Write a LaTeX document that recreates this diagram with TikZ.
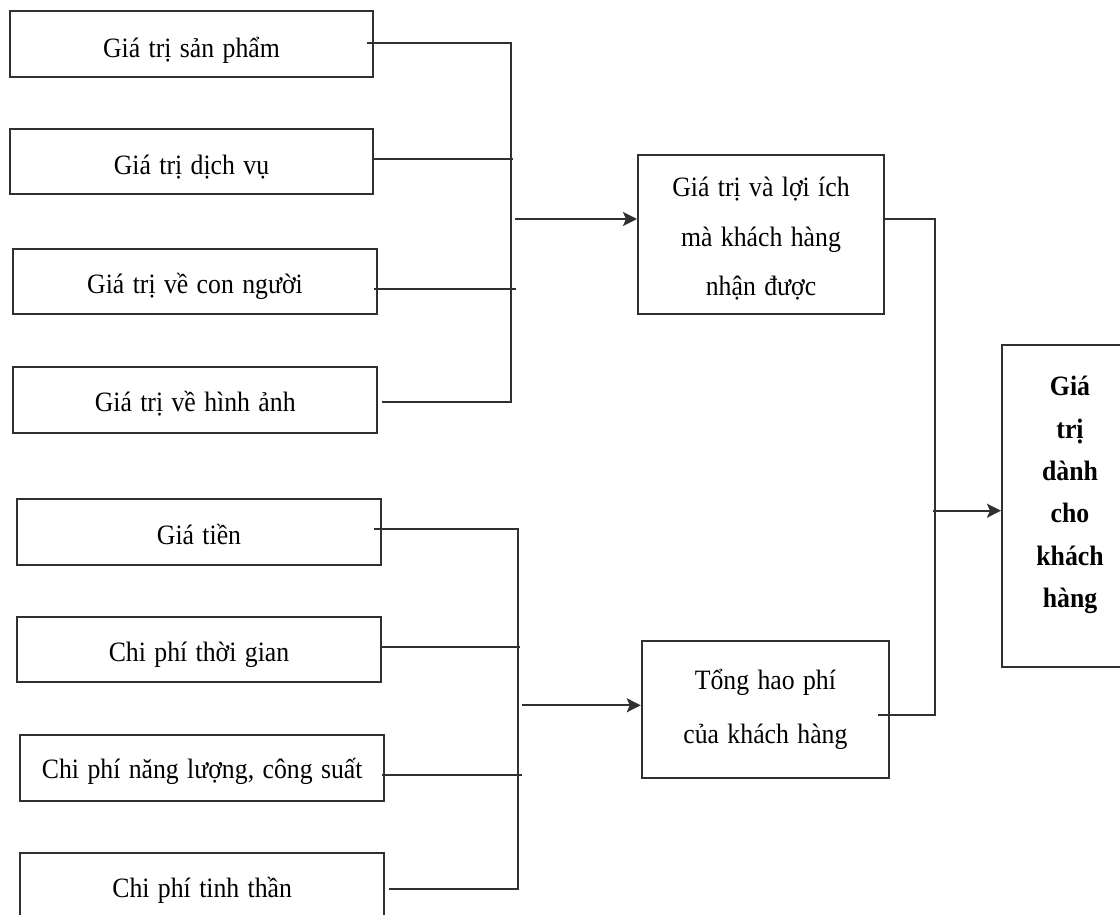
\documentclass[tikz,border=0pt]{standalone}
\usepackage{fontspec}
\setmainfont{Liberation Serif}[FakeStretch=0.92, WordSpace=1.3]
\usetikzlibrary{arrows.meta,calc}
\definecolor{linec}{HTML}{303030}
\begin{document}
\begin{tikzpicture}[x=1pt,y=-1pt,
  box/.style={draw=linec, line width=2pt, inner sep=0pt, align=center,
    font=\fontsize{28}{30}\selectfont},
  one/.style={box, text height=26pt, text depth=2pt},
  conn/.style={draw=linec, line width=2pt},
  arr/.style={conn, -{Stealth[length=14pt,width=14pt,inset=3pt]}}]
\clip (0,0) rectangle (1120,915);
\fill[white] (0,0) rectangle (1120,915);
% left column: values
\node[one, text height=29pt, minimum width=363pt, minimum height=66pt]   (b1) at (191.5,44)    {Giá trị sản phẩm};
\node[one, text height=28pt, minimum width=363pt, minimum height=65.3pt] (b2) at (191.5,161.3) {Giá trị dịch vụ};
\node[one, minimum width=364pt, minimum height=65.6pt] (b3) at (195,281.5)   {Giá trị về con người};
\node[one, minimum width=364.3pt, minimum height=66pt] (b4) at (195.2,399.7) {Giá trị về hình ảnh};
% left column: costs
\node[one, minimum width=364pt, minimum height=66pt]   (b5) at (199,532)     {Giá tiền};
\node[one, minimum width=364pt, minimum height=65.6pt] (b6) at (199,649.5)   {Chi phí thời gian};
\node[one, text height=24pt, minimum width=364.3pt, minimum height=65.7pt] (b7) at (202.2,767.9) {Chi phí năng lượng, công suất};
\node[one, minimum width=364.3pt, minimum height=66.3pt] (b8) at (202.2,885.9) {Chi phí tinh thần};
% middle
\node[box, minimum width=246pt, minimum height=159pt, font=\fontsize{28}{49.5}\selectfont] (V) at (761,234.5)
  {\rule{0pt}{28pt}Giá trị và lợi ích\\mà khách hàng\\nhận được};
\node[box, minimum width=247.3pt, minimum height=137.3pt, font=\fontsize{28}{54}\selectfont] (C) at (765.4,709.7)
  {Tổng hao phí\\của khách hàng};
% right
\node[box, minimum width=136pt, minimum height=322pt, font=\fontsize{28}{42.3}\selectfont\bfseries] (R) at (1070,506)
  {Giá\\trị\\dành\\cho\\khách\\hàng\\[-14pt]\mbox{}};
% junction coordinates
\coordinate (j1) at (511,42.7);
\coordinate (j2) at (513,158.7);
\coordinate (j3) at (516,288.7);
\coordinate (j4) at (511,402.3);
\coordinate (ja) at (515,219);
\coordinate (m1) at (517.7,529);
\coordinate (m2) at (520,646.7);
\coordinate (m3) at (521.7,774.7);
\coordinate (m4) at (517.7,888.7);
\coordinate (ma) at (522.3,705.3);
\coordinate (k1) at (935,219);
\coordinate (k2) at (935,714.7);
\coordinate (kr) at (933,510.7);
% top bus
\draw[conn] ($(b1.east |- j1)+(-7,0)$) -- (j1) -- (j4) -- ($(b4.east |- j4)+(3.4,0)$);
\draw[conn] ($(b2.east |- j2)+(-1,0)$) -- (j2);
\draw[conn] ($(b3.east |- j3)+(-4,0)$) -- (j3);
\draw[arr] (ja) -- (V.west |- ja);
% bottom bus
\draw[conn] ($(b5.east |- m1)+(-7.7,0)$) -- (m1) -- (m4) -- ($(b8.east |- m4)+(3.4,0)$);
\draw[conn] ($(b6.east |- m2)+(-2,0)$) -- (m2);
\draw[conn] ($(b7.east |- m3)+(-3.6,0)$) -- (m3);
\draw[arr] (ma) -- (C.west |- ma);
% right bus
\draw[conn] (V.east |- k1) -- (k1) -- (k2) -- ($(C.east |- k2)+(-12,0)$);
\draw[arr] (kr) -- (R.west |- kr);
\end{tikzpicture}
\end{document}
